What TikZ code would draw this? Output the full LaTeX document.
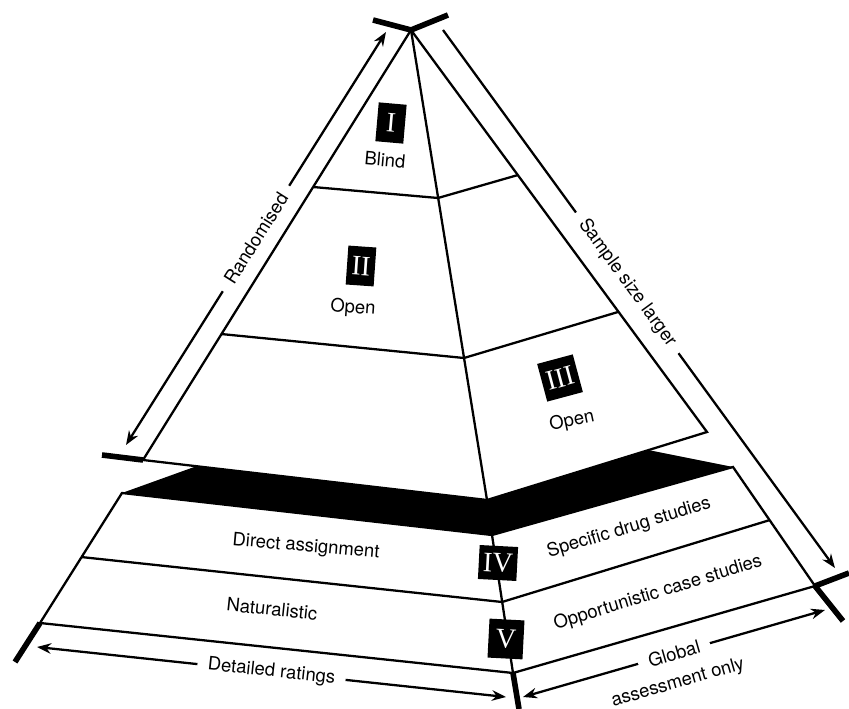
\documentclass[tikz,border=0pt]{standalone}
\usepackage{fontspec}
\setmainfont{TeX Gyre Heros}
\newfontfamily\romanfont{Liberation Serif}
\usetikzlibrary{arrows.meta}

\begin{document}
\begin{tikzpicture}[x=0.02cm, y=-0.02cm, line width=1.3pt,
    font=\fontsize{10.5}{12}\selectfont,
    numbox/.style={fill=black, text=white, inner xsep=2.5pt,
      font=\romanfont\fontsize{16}{16}\selectfont,
      minimum width=0.56cm, minimum height=0.78cm},
    bar/.style={line width=3.2pt},
    gap/.style={fill=white, sloped, inner xsep=6pt, inner ysep=1pt},
    dim/.style={{Stealth[length=8pt,width=6pt]}-{Stealth[length=8pt,width=6pt]}}]

            \useasboundingbox (0,0) rectangle (849,709);

            % upper pyramid
            \coordinate (apex) at (411,30);
            \coordinate (ul)   at (143,460);
            \coordinate (uc)   at (487,500);
            \coordinate (ur)   at (707,432);
            \coordinate (l1)   at (313,187);
            \coordinate (c1)   at (438,198);
            \coordinate (r1)   at (518,175);
            \coordinate (l2)   at (221,334);
            \coordinate (c2)   at (464,358);
            \coordinate (r2)   at (618,312);

            % lower tier
            \coordinate (lbl)  at (122,493);
            \coordinate (lc)   at (492,535);
            \coordinate (lbr)  at (733,467);
            \coordinate (ml)   at (81,557);
            \coordinate (mc)   at (502,602);
            \coordinate (mr)   at (770,520);
            \coordinate (bl)   at (40,623);
            \coordinate (bc)   at (513,673);
            \coordinate (br)   at (815,586);

            % arrow ends
            \coordinate (rnd1) at (126,445);
            \coordinate (rnd2) at (386,32);
            \coordinate (smp1) at (443,30);
            \coordinate (smp2) at (835,568);
            \coordinate (det1) at (37,647);
            \coordinate (det2) at (506,697);
            \coordinate (glb1) at (523,697);
            \coordinate (glb2) at (825,610);

            \fill (197,466) -- (uc) -- (648,450) -- (lbr) -- (lc) -- (lbl) -- cycle;

            \draw (apex) -- (ul) -- (uc) -- (ur) -- cycle;
            \draw (apex) -- (uc);
            \draw (l1) -- (c1) -- (r1);
            \draw (l2) -- (c2) -- (r2);

            \draw (lbl) -- (bl) -- (bc) -- (br) -- (lbr) -- (lc) -- cycle;
            \draw (lc) -- (bc);
            \draw (ml) -- (mc) -- (mr);

            \draw[bar] (373,20) -- (apex) -- (448,15);
            \draw[bar] (102,455) -- (ul);
            \draw[bar] (bl) -- (15,662);
            \draw[bar] (bc) -- (519,709);
            \draw[bar] (br) -- (843,621);
            \draw[bar] (br) -- (849,573);

            \draw[dim] (rnd1) -- node[gap] {Randomised} (rnd2);
            \draw[-{Stealth[length=8pt,width=6pt]}] (smp1) -- node[gap, pos=0.47] {Sample size larger} (smp2);
            \draw[dim] (det1) -- node[gap] {Detailed ratings} (det2);
            \draw[dim] (glb1) -- node[gap] (glob) {Global} (glb2);
            \node[rotate=16] (assess) at (678,683) {assessment only};

            \node[numbox, rotate=-5] (one)   at (391,123) {I};
            \node[rotate=-5]         (blind) at (385,160) {Blind};
            \node[numbox, rotate=-4] (two)   at (361,266) {II};
            \node[rotate=-4]         (open2) at (353,308) {Open};
            \node[numbox, rotate=15] (three) at (560,378) {III};
            \node[rotate=12]         (open3) at (572,421) {Open};
            \node[numbox, rotate=-3, minimum height=0.68cm] (four) at (498,563) {IV};
            \node[numbox, rotate=-3, minimum width=0.7cm] (five) at (506,639) {V};

            \node[rotate=-5]  (direct)  at (306,547) {Direct assignment};
            \node[rotate=-6]  (natural) at (272,609) {Naturalistic};
            \node[rotate=17]  (drug)    at (629,528) {Specific drug studies};
            \node[rotate=17]  (case)    at (658,593) {Opportunistic case studies};

        \end{tikzpicture}
\end{document}
